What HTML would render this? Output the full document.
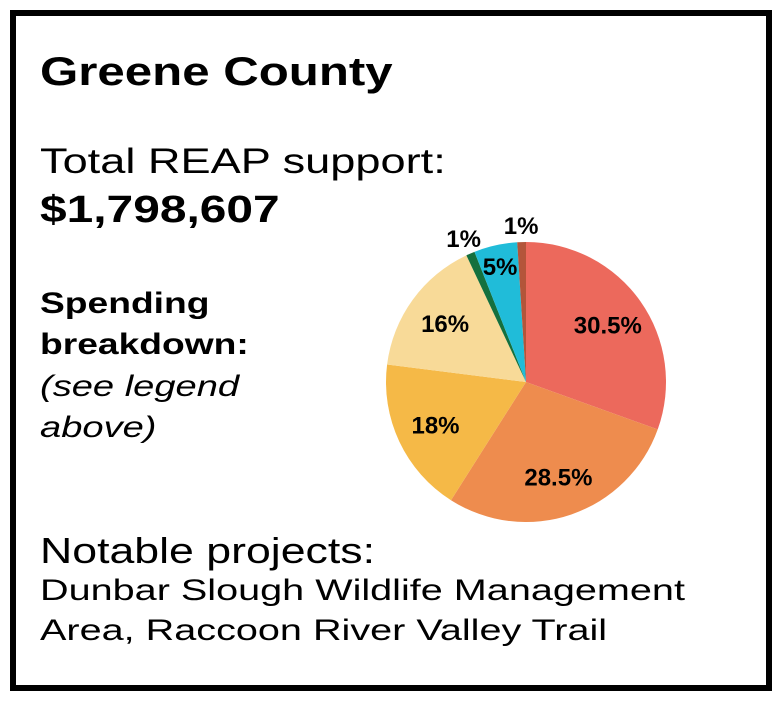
<!DOCTYPE html>
<html><head><meta charset="utf-8"><style>
body{margin:0;background:#fff;}
#wrap{position:relative;width:782px;height:701px;overflow:hidden;font-family:"Liberation Sans",sans-serif;color:#000;}
#frame{position:absolute;left:10px;top:10px;width:750px;height:669px;border:6px solid #000;}
.t{position:absolute;white-space:nowrap;transform-origin:0 0;}
</style></head><body>
<div id="wrap">
<div id="frame"></div>
<div class="t" style="left:40px;top:50px;font-size:40px;font-weight:bold;transform:scaleX(1.23);">Greene County</div>
<div class="t" style="left:40px;top:142px;font-size:35px;transform:scaleX(1.29);">Total REAP support:</div>
<div class="t" style="left:40px;top:189px;font-size:38px;font-weight:bold;transform:scaleX(1.26);">$1,798,607</div>
<div class="t" style="left:40px;top:283px;font-size:30px;font-weight:bold;line-height:41px;transform:scaleX(1.24);">Spending<br>breakdown:</div>
<div class="t" style="left:40px;top:366px;font-size:30px;font-style:italic;line-height:41px;transform:scaleX(1.27);">(see legend<br>above)</div>
<div class="t" style="left:40px;top:530px;font-size:36px;transform:scaleX(1.24);">Notable projects:</div>
<div class="t" style="left:40px;top:571px;font-size:30px;line-height:40px;transform:scaleX(1.32);">Dunbar Slough Wildlife Management<br>Area, Raccoon River Valley Trail</div>
<svg id="pie" width="782" height="701" style="position:absolute;left:0;top:0"></svg>
</div>
<script>
const categories=["cat-a","cat-b","cat-c","cat-d","cat-e","cat-f","cat-g"];
const values=[30.5,28.5,18,16,1,5,1];
const labels=["30.5%","28.5%","18%","16%","1%","5%","1%"];
const colors=["#ec695c","#ee8c4e","#f5b947","#f8da98","#14703e","#20bcd9","#b3553a"];
const cx=526,cy=382,R=140;
const svg=document.getElementById('pie');
const NS="http://www.w3.org/2000/svg";
const total=values.reduce((a,b)=>a+b,0);
function ang(v){return v/total*2*Math.PI;}
function pt(a,r){return [cx+r*Math.sin(a),cy-r*Math.cos(a)];}
let acc=0;
values.forEach((v,i)=>{
  const a0=ang(acc),a1=ang(acc+v);acc+=v;
  const p0=pt(a0,R),p1=pt(a1,R);
  const large=(a1-a0)>Math.PI?1:0;
  const path=document.createElementNS(NS,'path');
  path.setAttribute('d',`M${cx},${cy}L${p0[0]},${p0[1]}A${R},${R} 0 ${large} 1 ${p1[0]},${p1[1]}Z`);
  path.setAttribute('fill',colors[i]);
  
  
  svg.appendChild(path);
  const am=(a0+a1)/2;
  const rl=v>=10?100:(v>=3?119:157);
  const lp=pt(am,rl);
  const tx=document.createElementNS(NS,'text');
  tx.setAttribute('x',lp[0]);tx.setAttribute('y',lp[1]+9);
  tx.setAttribute('text-anchor','middle');
  tx.setAttribute('font-family','Liberation Sans, sans-serif');
  tx.setAttribute('font-weight','bold');
  tx.setAttribute('font-size','24');
  tx.textContent=labels[i];
  
  
  svg.appendChild(tx);
});
</script>
</body></html>
